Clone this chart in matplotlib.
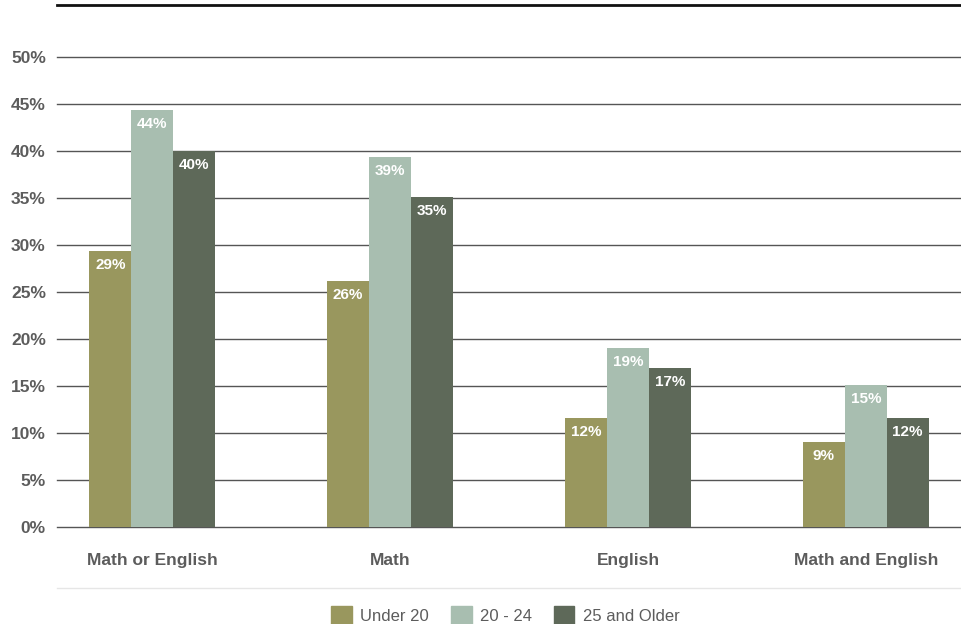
import matplotlib.pyplot as plt
import matplotlib.patches as mpatches
import numpy as np

categories = ['Math or English', 'Math', 'English', 'Math and English']
series_names = ['Under 20', '20 - 24', '25 and Older']
under_20 = [29.4, 26.2, 11.6, 9.0]
age_20_24 = [44.4, 39.4, 19.0, 15.1]
age_25_up = [40.0, 35.1, 16.9, 11.6]
value_labels = [
  ['29%', '26%', '12%', '9%'],
  ['44%', '39%', '19%', '15%'],
  ['40%', '35%', '17%', '12%'],
]
yticks = [0, 5, 10, 15, 20, 25, 30, 35, 40, 45, 50]

colors = ['#99975E', '#A8BEB0', '#5E6959']
text_gray = '#5c5c5c'

plt.rcParams['font.family'] = ['Liberation Sans', 'DejaVu Sans']

def main():
  fig = plt.figure(figsize=(9.61, 6.24), dpi=100)
  ax = fig.add_axes([57/961, 97/624, 1 - 57/961, 522/624])

  x = np.arange(len(categories))
  width = 0.176
  series = [under_20, age_20_24, age_25_up]

  for i, vals in enumerate(series):
    bars = ax.bar(x + (i-1)*width, vals, width=width, color=colors[i],
                  label=series_names[i], zorder=3)
    for b, lab in zip(bars, value_labels[i]):
      ax.annotate(lab, xy=(b.get_x() + b.get_width()/2, b.get_height()),
                  xytext=(0, -5), textcoords='offset points',
                  ha='center', va='top', color='white',
                  weight='bold', size=11, zorder=4)

  ax.set_xlim(-0.4, 3.4)
  ax.set_ylim(0, 55.53)
  ax.set_yticks(yticks)
  ax.set_yticklabels([f'{t}%' for t in yticks])
  ax.set_xticks(x)
  ax.set_xticklabels(categories)
  ax.tick_params(axis='y', length=0, pad=8, labelsize=12.5, labelcolor=text_gray)
  ax.tick_params(axis='x', length=0, pad=19, labelsize=12.5, labelcolor=text_gray)
  for lab in ax.get_xticklabels() + ax.get_yticklabels():
    lab.set_fontweight('bold')

  for t in yticks:
    ax.axhline(t, color='#555555', linewidth=1, zorder=1, clip_on=False)

  for side in ['left', 'right', 'bottom']:
    ax.spines[side].set_visible(False)
  ax.spines['top'].set_color('#111111')
  ax.spines['top'].set_linewidth(2)

  # light separator above the legend
  ax.plot([0, 1], [-0.117, -0.117], transform=ax.transAxes,
          color='#e6e6e6', linewidth=1, clip_on=False)

  handles = [mpatches.Patch(color=c, label=n) for c, n in zip(colors, series_names)]
  leg = ax.legend(handles=handles, loc='center', bbox_to_anchor=(0.496, -0.169),
                  ncol=3, frameon=False, fontsize=12, handlelength=1.25,
                  handleheight=1.25, handletextpad=0.5, columnspacing=1.3)
  for t in leg.get_texts():
    t.set_color(text_gray)

  fig.savefig('out.png', dpi=100)

if __name__ == "__main__":
  main()
